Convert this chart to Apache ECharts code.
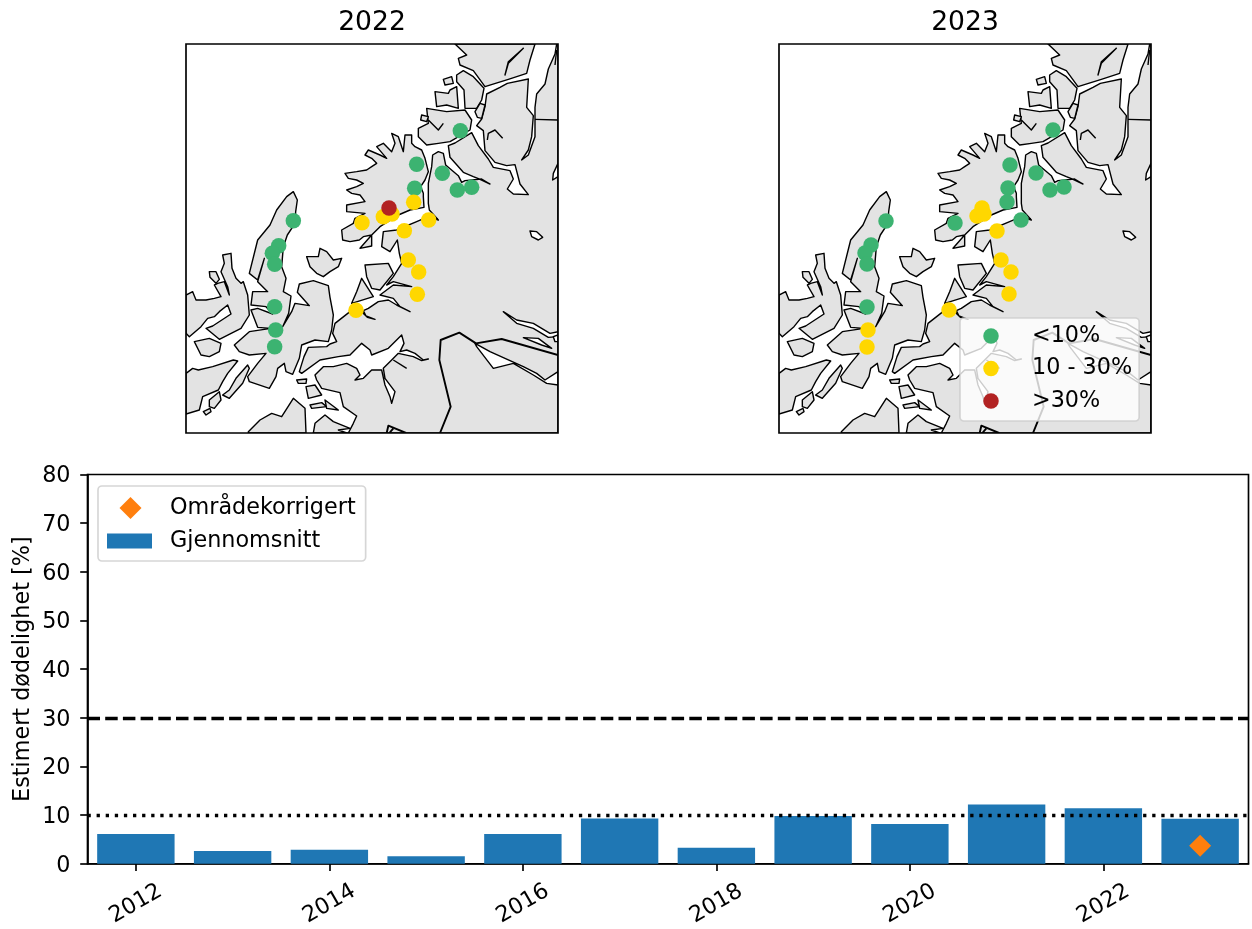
<!DOCTYPE html>
<html><head><meta charset="utf-8">
<style>html,body{margin:0;padding:0;background:#fff}#c{width:1252px;height:929px}</style>
<script src="https://cdn.jsdelivr.net/npm/echarts@6/dist/echarts.min.js"></script>
</head><body><div id="c"></div>
<script>
// ---------- bar panel data ----------
const years = ['2012','2013','2014','2015','2016','2017','2018','2019','2020','2021','2022','2023'];
const meanMortality = [6.1,2.65,2.9,1.55,6.1,9.3,3.3,9.8,8.2,12.2,11.4,9.25];
const areaCorrected = [['2023',3.7]];
const thresholdHigh = 30;
const thresholdLow = 10;
const yTicksMax = 80;

// ---------- site points, map units ----------
const green2022 = [[841,272],[710,373],[787,400],[832,450],[875,442],[704,445],[340,542],[296,617],[277,640],[284,673],[284,800],[287,870],[284,920]];
const yellow2022 = [[701,487],[746,540],[610,530],[636,522],[546,548],[673,572],[685,660],[716,696],[712,763],[528,811]];
const red2022 = [[627,504]];
const green2023 = [[840,270],[711,375],[789,399],[831,450],[873,441],[705,444],[702,486],[744,540],[546,549],[339,543],[294,615],[276,639],[282,672],[282,801]];
const yellow2023 = [[627,504],[612,528],[633,522],[672,573],[684,660],[714,696],[708,762],[528,810],[285,870],[282,921]];
const red2023 = [];

// ---------- coastline geometry, map units ----------
const mainland = [[400,1179],[505,1179],[520,1150],[530,1128],[490,1100],[480,1058],[425,1045],[410,1020],[405,1005],[430,980],[460,980],[500,970],[530,985],[540,1005],[525,1020],[550,1015],[575,990],[605,990],[615,1035],[630,1070],[635,1090],[645,1055],[615,1015],[610,985],[635,960],[655,940],[700,950],[725,962],[745,957],[730,960],[705,940],[680,930],[660,935],[672,910],[665,885],[625,925],[575,945],[570,930],[545,910],[510,945],[475,950],[420,960],[365,1000],[358,995],[372,950],[385,922],[440,920],[450,912],[470,905],[458,880],[465,850],[510,815],[545,815],[562,832],[585,838],[558,828],[550,812],[565,805],[595,785],[625,780],[650,795],[690,815],[660,800],[640,775],[600,765],[640,735],[695,740],[640,725],[620,735],[640,710],[665,670],[658,640],[652,600],[630,635],[605,620],[610,575],[650,570],[710,545],[745,530],[775,540],[748,510],[745,490],[745,430],[755,380],[758,345],[775,335],[790,340],[797,375],[835,407],[845,427],[855,422],[905,417],[930,432],[905,420],[880,410],[850,397],[810,352],[805,317],[825,309],[875,278],[895,317],[925,357],[940,382],[990,392],[1000,417],[982,447],[1000,462],[1045,464],[1020,432],[1005,374],[980,377],[945,367],[915,332],[910,272],[890,257],[905,237],[915,200],[920,162],[960,142],[982,130],[1045,117],[1040,202],[1060,227],[1055,290],[1045,330],[1025,360],[1045,345],[1065,290],[1065,238],[1065,202],[1070,162],[1095,132],[1105,87],[1125,42],[1130,12],[1134,12],[1134,1179]];
const northIsland = [[540,625],[575,618],[575,585],[550,590],[538,600],[510,605],[488,600],[485,570],[520,550],[525,535],[555,520],[500,515],[500,495],[555,485],[540,465],[515,460],[500,450],[530,440],[550,430],[530,420],[505,415],[495,400],[530,395],[560,390],[575,380],[590,370],[575,355],[555,345],[565,330],[600,345],[620,355],[590,320],[610,310],[635,335],[645,310],[635,280],[655,290],[670,335],[675,285],[695,285],[695,310],[705,320],[725,330],[735,355],[745,395],[735,420],[722,440],[730,460],[730,470],[732,502],[690,510],[655,525],[600,560],[575,585]];
const longIsland = [[340,455],[352,480],[347,515],[345,550],[322,585],[310,620],[305,680],[318,715],[310,755],[333,768],[326,820],[308,860],[335,815],[345,790],[388,797],[352,757],[358,732],[400,722],[445,737],[450,772],[460,825],[455,870],[445,905],[405,900],[365,915],[358,955],[338,1003],[318,995],[313,970],[293,985],[288,1010],[268,1045],[208,1025],[203,1010],[233,970],[258,940],[208,945],[178,935],[163,915],[208,875],[273,865],[233,862],[213,810],[233,805],[278,822],[258,800],[213,795],[218,755],[263,755],[233,725],[253,655],[233,720],[208,700],[233,600],[270,555],[290,510],[320,470]];
const westIsland = [[128,645],[153,640],[156,685],[168,715],[183,730],[190,725],[203,765],[208,825],[183,865],[118,898],[78,865],[98,858],[153,822],[143,795],[118,815],[103,830],[83,835],[63,860],[28,890],[18,880],[18,765],[38,755],[48,780],[78,780],[103,775],[123,770],[103,735],[113,730],[133,725],[148,765],[143,740],[123,695],[133,670]];
const smallIslands = [
 [[88,695],[108,695],[118,718],[108,730],[90,712]],
 [[43,905],[88,895],[123,910],[118,935],[88,950],[63,945]],
 [[18,1000],[38,985],[55,990],[98,980],[160,960],[173,963],[143,1000],[128,1025],[115,1050],[68,1070],[58,1110],[18,1122]],
 [[88,1080],[118,1055],[123,1080],[103,1105],[88,1100]],
 [[128,1065],[148,1050],[168,1015],[203,975],[208,985],[188,1030],[148,1075]],
 [[70,1115],[90,1105],[93,1115],[78,1125]],
 [[350,1020],[380,1017],[378,1030],[355,1030]],
 [[205,1179],[205,1175],[240,1140],[275,1120],[305,1130],[340,1075],[375,1105],[378,1179]],
 [[378,1040],[405,1035],[425,1065],[385,1075]],
 [[390,1095],[425,1088],[440,1100],[395,1105]],
 [[435,1080],[475,1110],[440,1105]],
 [[400,1179],[405,1150],[435,1125],[460,1145],[510,1165],[475,1170],[500,1179]],
 [[555,675],[625,670],[640,700],[600,750],[575,745],[560,710]],
 [[545,715],[580,770],[515,790],[530,755]],
 [[380,650],[415,650],[420,625],[440,635],[460,660],[485,655],[475,680],[450,695],[430,710],[410,700],[390,680]],
 [[715,265],[745,250],[740,205],[800,215],[855,210],[875,240],[870,270],[810,305],[775,310],[740,315],[715,290]],
 [[765,155],[805,160],[810,150],[830,140],[835,205],[800,195],[770,200]],
 [[790,118],[815,110],[820,130],[795,135]],
 [[725,225],[745,230],[740,245],[722,240]],
 [[830,105],[850,92],[880,110],[912,145],[905,180],[890,205],[855,205],[852,150],[830,125]],
 [[885,215],[900,190],[915,195],[905,235],[892,232]],
 [[825,12],[860,45],[835,55],[840,75],[880,92],[915,140],[985,118],[1040,100],[1050,60],[1065,12]]
];
const inlandWaters = [
 [[1030,25],[985,65],[975,105],[985,70]],
 [[1134,370],[1120,400],[1118,420],[1134,410]],
 [[1050,573],[1070,575],[1088,592],[1075,600],[1055,590]],
 [[885,910],[930,935],[1030,980],[1070,1000],[1095,1020],[1134,995],[1134,1035],[1100,1030],[1060,1005],[1000,970],[940,985],[890,920]],
 [[970,815],[1010,840],[1060,850],[1110,880],[1134,875],[1134,890],[1105,892],[1060,865],[1010,850]],
 [[1030,893],[1075,895],[1115,925],[1085,915]],
 [[1120,890],[1134,885],[1134,905],[1125,905]]
];
const thinLines = [
 [[745,240],[775,270],[790,250]],
 [[922,300],[925,280],[945,270],[968,295]],
 [[1125,75],[1130,30]],
 [[1065,238],[1134,240]],
 [[640,960],[680,985]]
];
const borderLines = [
 [[780,1179],[812,1100],[778,960],[782,900],[838,878],[888,910],[965,897],[1134,945]],
 [[620,1179],[625,1157],[678,1179]],
 [[628,1179],[640,1165]]
];
const mapLayers = [
 ...[mainland,northIsland,longIsland,westIsland,...smallIslands].map(p=>({p,closed:true,fill:'#e3e3e3',w:1.4})),
 ...inlandWaters.map(p=>({p,closed:true,fill:'#ffffff',w:1.4})),
 ...thinLines.map(p=>({p,closed:false,w:1.4})),
 ...borderLines.map(p=>({p,closed:false,w:1.9}))
];

const FONT = 'DejaVu Sans';
const FS = 22.3, FS_TITLE = 26.6;
const GREEN='#3cb371', GOLD='#ffd700', RED='#b22222', BLUE='#1f77b4', ORANGE='#ff7f0e';
const EDGE = 1.67;
const extent40='M0 0L0 0M40 15.5L40 15.5';
const circleIcon='path://'+extent40+'M12.25 7.75a7.75 7.75 0 1 0 15.5 0a7.75 7.75 0 1 0 -15.5 0Z';

function mapSeries(ix){
  return {type:'custom',xAxisIndex:ix,yAxisIndex:ix,coordinateSystem:'cartesian2d',clip:true,silent:true,z:1,
    data:mapLayers.map((_,i)=>[i]),encode:{x:-1,y:-1},animation:false,
    renderItem:(params,api)=>{
      const l=mapLayers[params.dataIndex];
      const pts=l.p.map(c=>api.coord(c));
      return {type:l.closed?'polygon':'polyline',shape:{points:pts},
        style:{fill:l.closed?l.fill:null,stroke:'#000',lineWidth:l.w,lineJoin:'round'}};
    }};
}
function frameSeries(ix){
  return {type:'custom',xAxisIndex:ix,yAxisIndex:ix,coordinateSystem:'cartesian2d',clip:false,silent:true,z:2,
    data:[[0]],encode:{x:-1,y:-1},animation:false,
    renderItem:(params)=>{const c=params.coordSys;
      return {type:'rect',shape:{x:c.x,y:c.y,width:c.width,height:c.height},style:{fill:null,stroke:'#000',lineWidth:EDGE}};}};
}
function pts(name,ix,data,color){
  return {type:'scatter',name,xAxisIndex:ix,yAxisIndex:ix,data,symbol:'circle',symbolSize:15.5,
    itemStyle:{color,opacity:1},z:3,silent:true,animation:false,clip:true};
}
function mapX(gi){return {type:'value',gridIndex:gi,min:18,max:1134,show:false};}
function mapY(gi){return {type:'value',gridIndex:gi,min:12,max:1179,inverse:true,show:false};}

const option = {
  animation:false,
  backgroundColor:'#fff',
  textStyle:{fontFamily:FONT,color:'#000'},
  title:[
    {text:'2022',left:372,top:10,padding:0,textAlign:'center',textStyle:{fontFamily:FONT,fontSize:FS_TITLE,fontWeight:'normal',color:'#000'}},
    {text:'2023',left:965,top:10,padding:0,textAlign:'center',textStyle:{fontFamily:FONT,fontSize:FS_TITLE,fontWeight:'normal',color:'#000'}}
  ],
  grid:[
    {left:186,top:44,width:372,height:389},
    {left:779,top:44,width:372,height:389},
    {left:87.5,top:474.5,width:1161,height:390,show:true,borderColor:'#000',borderWidth:EDGE,backgroundColor:'transparent'}
  ],
  xAxis:[mapX(0),mapX(1),{
    type:'category',gridIndex:2,data:years,
    axisLine:{show:true,lineStyle:{color:'#000',width:EDGE}},
    axisTick:{show:true,alignWithLabel:true,length:7.3,interval:(i)=>i%2===0,lineStyle:{color:'#000',width:EDGE}},
    axisLabel:{interval:(i)=>i%2===0,rotate:30,align:'center',verticalAlign:'middle',margin:40,color:'#000',fontFamily:FONT,fontSize:FS},
    splitLine:{show:false}
  }],
  yAxis:[mapY(0),mapY(1),{
    type:'value',gridIndex:2,min:0,max:yTicksMax,interval:10,
    name:'Estimert dødelighet [%]',nameLocation:'middle',nameGap:53,nameMoveOverlap:false,
    nameTextStyle:{fontFamily:FONT,fontSize:FS,color:'#000'},
    axisLine:{show:true,lineStyle:{color:'#000',width:EDGE}},
    axisTick:{show:true,length:7.3,lineStyle:{color:'#000',width:EDGE}},
    axisLabel:{color:'#000',fontFamily:FONT,fontSize:FS,margin:17,verticalAlign:'top',padding:[-9,0,0,0]},
    splitLine:{show:false}
  }],
  legend:[
    {left:960,top:318,orient:'vertical',itemWidth:40,itemHeight:15.5,itemGap:10.5,
     padding:[7,7,9,11],backgroundColor:'rgba(255,255,255,0.8)',borderColor:'rgba(204,204,204,0.8)',borderWidth:EDGE,borderRadius:4,
     textStyle:{fontFamily:FONT,fontSize:FS,color:'#000',padding:[0,0,0,16]},selectedMode:false,
     data:[{name:'<10%',icon:circleIcon},{name:'10 - 30%',icon:circleIcon},{name:'>30%',icon:circleIcon}]},
    {left:98,top:486,orient:'vertical',itemWidth:45,itemHeight:22,itemGap:11,
     padding:[11,10,9,9],backgroundColor:'rgba(255,255,255,0.8)',borderColor:'rgba(204,204,204,0.8)',borderWidth:EDGE,borderRadius:4,
     textStyle:{fontFamily:FONT,fontSize:FS,color:'#000',padding:[0,0,0,13]},selectedMode:false,
     data:[
       {name:'Områdekorrigert',icon:'path://M0 0L0 0M45 22L45 22M23.5 0L34.5 11L23.5 22L12.5 11Z'},
       {name:'Gjennomsnitt',icon:'path://M0 0L0 0M45 22L45 22M0 3.5L45 3.5L45 18.5L0 18.5Z'}
     ]}
  ],
  series:[
    mapSeries(0),frameSeries(0),
    pts('<10%',0,green2022,GREEN),pts('10 - 30%',0,yellow2022,GOLD),pts('>30%',0,red2022,RED),
    mapSeries(1),frameSeries(1),
    pts('<10%',1,green2023,GREEN),pts('10 - 30%',1,yellow2023,GOLD),pts('>30%',1,red2023,RED),
    {type:'bar',name:'Gjennomsnitt',xAxisIndex:2,yAxisIndex:2,data:meanMortality,barWidth:'80%',itemStyle:{color:BLUE},z:2,silent:true,
     markLine:{silent:true,symbol:'none',label:{show:false},animation:false,z:4,data:[
       {yAxis:thresholdHigh,lineStyle:{color:'#000',type:[12.5,5.2],width:3.3,opacity:1}},
       {yAxis:thresholdLow,lineStyle:{color:'#000',type:[3.3,5.8],width:3.3,opacity:1}}
     ]}},
    {type:'scatter',name:'Områdekorrigert',xAxisIndex:2,yAxisIndex:2,data:areaCorrected,symbol:'diamond',symbolSize:22,itemStyle:{color:ORANGE,opacity:1},z:5,silent:true}
  ]
};
echarts.init(document.getElementById('c'),null,{renderer:'canvas'}).setOption(option);
</script></body></html>
